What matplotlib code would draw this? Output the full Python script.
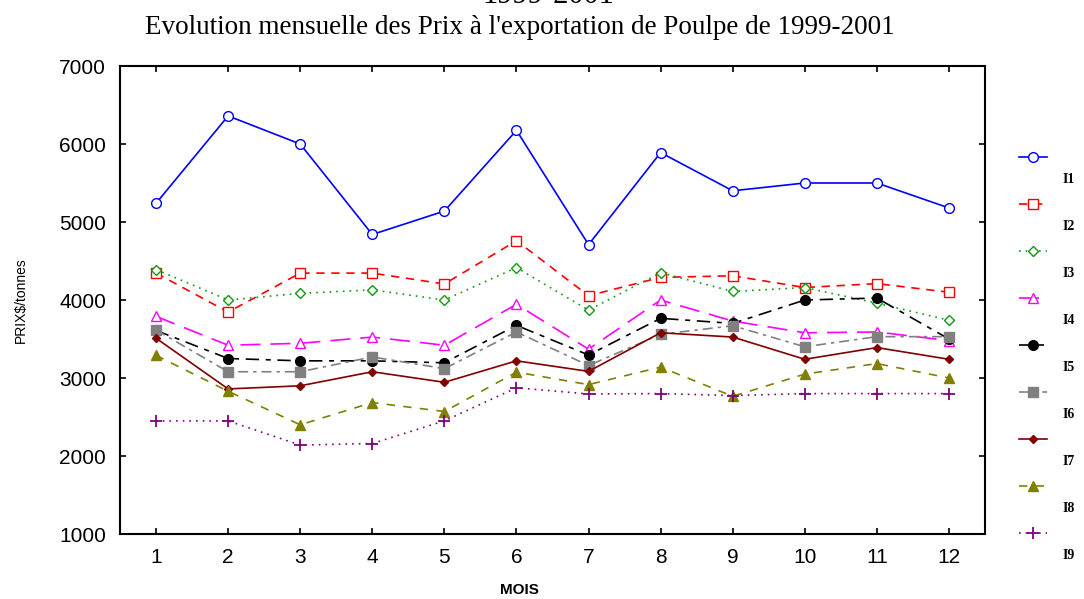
import matplotlib

matplotlib.use("Agg")
import matplotlib.pyplot as plt
import matplotlib.transforms as mtransforms

mois = list(range(1, 13))

i1 = [5240, 6360, 6000, 4840, 5140, 6175, 4710, 5890, 5400, 5500, 5500, 5180]
i2 = [4345, 3845, 4345, 4345, 4205, 4760, 4055, 4290, 4310, 4160, 4210, 4100]
i3 = [4390, 4000, 4085, 4130, 4000, 4415, 3870, 4350, 4110, 4160, 3960, 3740]
i4 = [3790, 3420, 3445, 3525, 3420, 3945, 3370, 4000, 3730, 3580, 3590, 3480]
i5 = [3610, 3250, 3220, 3220, 3195, 3675, 3295, 3765, 3700, 4000, 4025, 3500]
i6 = [3615, 3080, 3080, 3270, 3120, 3590, 3160, 3560, 3670, 3400, 3530, 3530]
i7 = [3510, 2860, 2900, 3080, 2945, 3220, 3085, 3580, 3525, 3240, 3390, 3240]
i8 = [3290, 2830, 2400, 2685, 2570, 3075, 2915, 3140, 2765, 3050, 3185, 3000]
i9 = [2450, 2450, 2140, 2160, 2450, 2875, 2795, 2800, 2775, 2800, 2800, 2800]

series = [i1, i2, i3, i4, i5, i6, i7, i8, i9]
noms = ["I1", "I2", "I3", "I4", "I5", "I6", "I7", "I8", "I9"]

styles = [
    dict(color="#0000ff", ls="-", marker="o", mfc="white", ms=7),
    dict(color="#ff0000", ls=(0, (5, 4)), marker="s", mfc="white", ms=7),
    dict(color="#119911", ls=(0, (1, 3)), marker="D", mfc="white", ms=5.5),
    dict(color="#ff00ff", ls=(0, (12, 6)), marker="^", mfc="white", ms=7),
    dict(color="#000000", ls=(0, (8, 4, 3, 4)), marker="o", mfc="#000000", ms=7),
    dict(color="#808080", ls=(0, (6, 3, 2, 3)), marker="s", mfc="#808080", ms=7),
    dict(color="#800000", ls="-", marker="D", mfc="#800000", ms=4.5),
    dict(color="#808000", ls=(0, (5, 5)), marker="^", mfc="#808000", ms=7),
    dict(color="#800080", ls=(0, (1, 3)), marker="+", mfc="#800080", ms=9, mew=1.3),
]

fig = plt.figure(figsize=(10.84, 5.99), dpi=100)
ax = fig.add_axes([120 / 1084, 1 - 534 / 599, 865 / 1084, 468 / 599])

lines = []
for vals, st in zip(series, styles):
    st = dict(st)
    c = st.pop("color")
    ln, = ax.plot(mois, vals, color=c, mec=c, lw=1.2, **st)
    lines.append(ln)

ax.set_xlim(0.5, 12.5)
ax.set_ylim(1000, 7000)
ax.set_xticks(mois)
ax.set_yticks(range(1000, 7001, 1000))
ax.tick_params(direction="in", length=4, width=1.2, top=True, right=True,
               labelsize=15, pad=10)
for lab in ax.get_xticklabels() + ax.get_yticklabels():
    lab.set_family("Liberation Sans")
for sp in ax.spines.values():
    sp.set_linewidth(1.5)

ax.set_xlabel("MOIS", fontsize=11, fontweight="bold", family="Liberation Sans")
ax.xaxis.set_label_coords(0.462, -0.104)
ax.set_ylabel("PRIX$/tonnes", fontsize=10, family="Liberation Sans")
ax.yaxis.set_label_coords(-0.106, 0.5)

fig.text(520 / 1084, 1 - 28 / 599,
         "Evolution mensuelle des Prix à l'exportation de Poulpe de 1999-2001",
         ha="center", va="center", fontsize=19.5, family="Liberation Serif")
fig.text(548 / 1084, 1 - 3 / 599, "1999-2001", ha="center", va="baseline",
         fontsize=22, family="Liberation Serif")

leg = fig.legend(lines, noms, loc="upper left",
                 bbox_to_anchor=(1019 / 1084, 1 - 152 / 599),
                 frameon=False, handlelength=2.0, handletextpad=1.1,
                 labelspacing=2.45, borderpad=0, borderaxespad=0,
                 prop=dict(family="Liberation Serif", weight="bold", size=10))
shift = mtransforms.ScaledTranslation(0, -21 / 100, fig.dpi_scale_trans)
for t in leg.get_texts():
    t.set_transform(t.get_transform() + shift)

fig.savefig("out.png", dpi=100)
